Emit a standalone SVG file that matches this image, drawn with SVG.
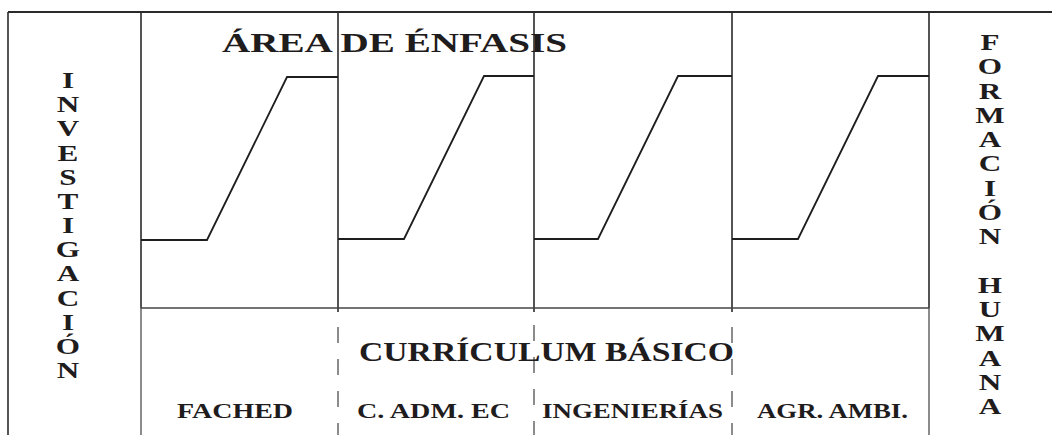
<svg xmlns="http://www.w3.org/2000/svg" width="1052" height="435" viewBox="0 0 1052 435">
<style>
.ln{stroke:#2a2a2a;stroke-width:1.6;fill:none}
.lt{stroke:#5a5a5a;stroke-width:1.4;fill:none}
.ds{stroke:#666666;stroke-width:1.5;fill:none;stroke-dasharray:16 16}
.cv{stroke:#1e1e1e;stroke-width:1.8;fill:none}
.t{font-family:"Liberation Serif","Times New Roman",serif;font-weight:bold;fill:#1f1c1d}
.big{font-size:27px}
.sm{font-size:20px}
.vt{font-size:24px;text-anchor:middle}
</style>
<rect width="1052" height="435" fill="#ffffff"/>
<g id="frame">
<line class="ln" x1="8" y1="12" x2="1052" y2="12" style="stroke-width:2"/>
<line class="ln" x1="8" y1="12" x2="8" y2="435"/>
<line class="ln" x1="141" y1="12" x2="141" y2="308"/>
<line class="lt" x1="141" y1="308" x2="141" y2="435"/>
<line class="ln" x1="338" y1="12" x2="338" y2="312"/>
<line class="ln" x1="534" y1="12" x2="534" y2="312"/>
<line class="ln" x1="732" y1="12" x2="732" y2="312"/>
<line class="ln" x1="929" y1="12" x2="929" y2="308"/>
<line class="lt" x1="929" y1="308" x2="929" y2="435"/>
<line class="ln" x1="141" y1="308" x2="929" y2="308" style="stroke:#444"/>
<line class="ds" x1="338" y1="327" x2="338" y2="435"/>
<line class="ds" x1="534" y1="325" x2="534" y2="435"/>
<line class="ds" x1="732" y1="327" x2="732" y2="435"/>
</g>
<g id="curves">
<polyline class="cv" points="141,240 207,240 287,77 338,77"/>
<polyline class="cv" points="338,239 404,239 484,76 534,76"/>
<polyline class="cv" points="534,239 598,239 678,76 732,76"/>
<polyline class="cv" points="732,239 798,239 878,76 929,76"/>
</g>
<g id="title">
<text class="t big" x="222" y="52" textLength="345" lengthAdjust="spacingAndGlyphs">ÁREA DE ÉNFASIS</text>
</g>
<g id="curriculum">
<text class="t big" x="359" y="361" textLength="375" lengthAdjust="spacingAndGlyphs">CURRÍCULUM BÁSICO</text>
</g>
<g id="labels">
<text class="t sm" x="177" y="418" textLength="116" lengthAdjust="spacingAndGlyphs">FACHED</text>
<text class="t sm" x="357" y="418" textLength="153" lengthAdjust="spacingAndGlyphs">C. ADM. EC</text>
<text class="t sm" x="542" y="418" textLength="181" lengthAdjust="spacingAndGlyphs">INGENIERÍAS</text>
<text class="t sm" x="757" y="418" textLength="151" lengthAdjust="spacingAndGlyphs">AGR. AMBI.</text>
</g>
<g id="investigacion" transform="translate(68 0) scale(1.3 1)">
<text class="t vt" x="0" y="88">I</text>
<text class="t vt" x="0" y="112">N</text>
<text class="t vt" x="0" y="136">V</text>
<text class="t vt" x="0" y="161">E</text>
<text class="t vt" x="0" y="185">S</text>
<text class="t vt" x="0" y="209">T</text>
<text class="t vt" x="0" y="233">I</text>
<text class="t vt" x="0" y="257">G</text>
<text class="t vt" x="0" y="281">A</text>
<text class="t vt" x="0" y="306">C</text>
<text class="t vt" x="0" y="330">I</text>
<text class="t vt" x="0" y="354">Ó</text>
<text class="t vt" x="0" y="378">N</text>
</g>
<g id="formacion" transform="translate(990 0) scale(1.3 1)">
<text class="t vt" x="0" y="50">F</text>
<text class="t vt" x="0" y="74">O</text>
<text class="t vt" x="0" y="99">R</text>
<text class="t vt" x="0" y="123">M</text>
<text class="t vt" x="0" y="147">A</text>
<text class="t vt" x="0" y="171">C</text>
<text class="t vt" x="0" y="196">I</text>
<text class="t vt" x="0" y="220">Ó</text>
<text class="t vt" x="0" y="244">N</text>
<text class="t vt" x="0" y="293">H</text>
<text class="t vt" x="0" y="317">U</text>
<text class="t vt" x="0" y="341">M</text>
<text class="t vt" x="0" y="366">A</text>
<text class="t vt" x="0" y="390">N</text>
<text class="t vt" x="0" y="414">A</text>
</g>
</svg>
